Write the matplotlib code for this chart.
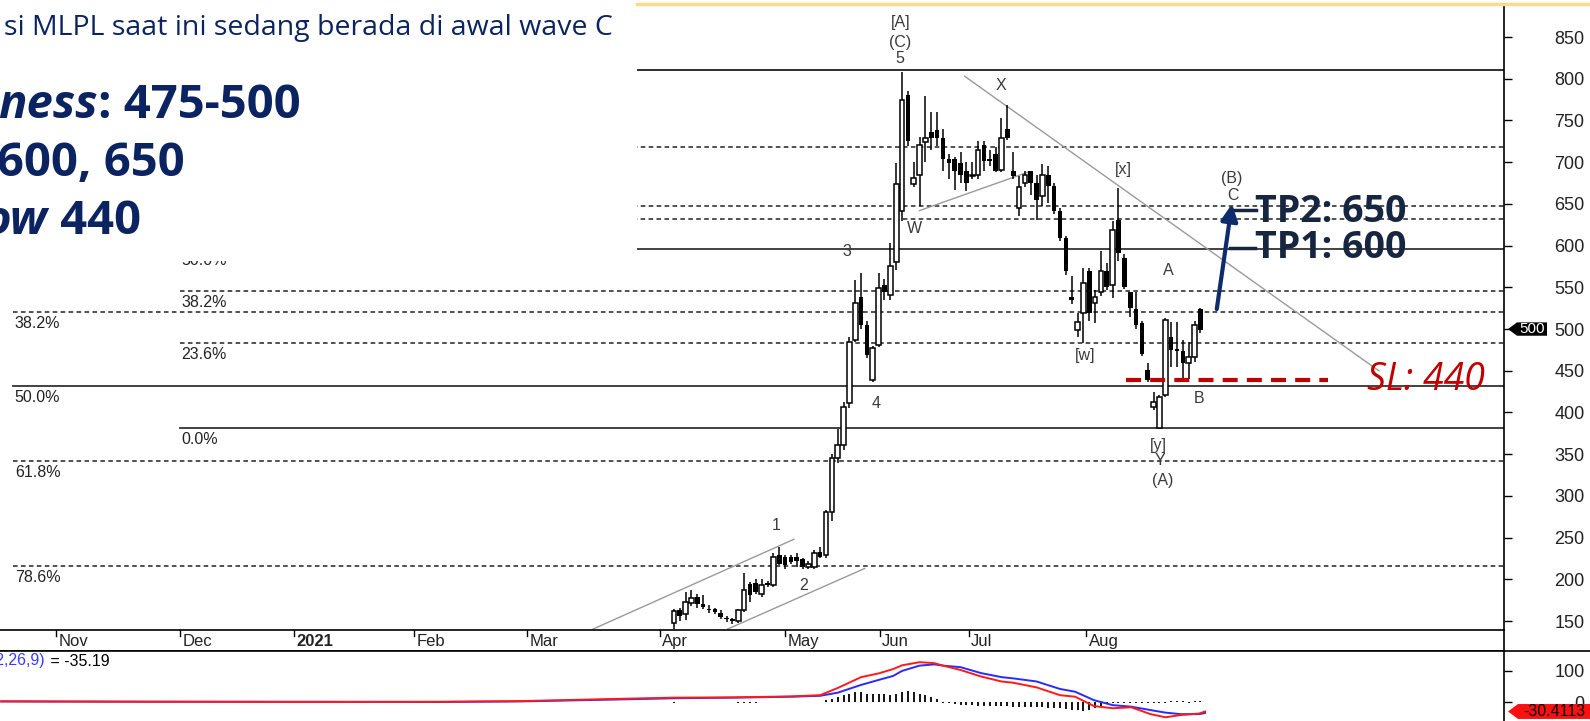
import numpy as np
import matplotlib.pyplot as plt
from matplotlib.patches import Rectangle, Polygon
from matplotlib.transforms import blended_transform_factory

plt.rcParams['font.family'] = ['Liberation Sans', 'DejaVu Sans']

W, H = 1590, 721

# daily candles, index 0 = first trading day of April 2021
opens = [148, 163, 159, 172, 179, 170, 165, 164, 160, 154, 153, 150, 163, 195, 196, 183, 196, 193, 229, 227,
         227, 227, 224, 215, 215, 233, 229, 281, 346, 361, 411, 487, 539, 505, 439, 481, 553, 541, 580, 641,
         780, 674, 685, 724, 736, 739, 729, 704, 704, 699, 689, 683, 685, 721, 704, 710, 691, 740, 689, 645,
         675, 689, 675, 659, 685, 671, 641, 609, 539, 499, 519, 569, 531, 545, 569, 553, 631, 585, 545, 524,
         507, 451, 407, 382, 421, 490, 476, 474, 459, 467, 524]
highs = [165, 166, 185, 187, 182, 181, 169, 166, 163, 156, 154, 165, 208, 197, 200, 201, 198, 231, 239, 229,
         229, 231, 226, 222, 235, 239, 283, 350, 380, 412, 490, 559, 567, 510, 480, 567, 560, 603, 699, 808,
         785, 700, 730, 779, 760, 760, 740, 710, 706, 712, 700, 700, 725, 725, 715, 718, 753, 768, 712, 683,
         690, 690, 685, 698, 695, 675, 645, 612, 563, 519, 573, 573, 547, 593, 579, 629, 669, 590, 545, 545,
         510, 459, 425, 421, 513, 509, 509, 487, 485, 510, 525]
lows = [140, 150, 151, 168, 166, 165, 160, 158, 153, 149, 147, 148, 161, 173, 183, 179, 191, 191, 217, 213,
        218, 215, 213, 213, 213, 225, 225, 270, 340, 355, 405, 485, 500, 465, 437, 478, 535, 535, 571, 630,
        720, 670, 647, 700, 715, 720, 690, 680, 667, 675, 665, 680, 680, 690, 695, 688, 688, 727, 680, 635,
        670, 661, 631, 647, 651, 638, 605, 565, 530, 491, 483, 510, 507, 540, 547, 537, 581, 548, 515, 500,
        468, 437, 403, 381, 419, 455, 455, 440, 440, 460, 495]
closes = [162, 156, 173, 178, 170, 167, 163, 161, 155, 152, 150, 163, 187, 181, 185, 193, 193, 227, 219, 217,
          221, 222, 215, 219, 232, 227, 281, 346, 361, 407, 485, 531, 505, 469, 477, 549, 545, 575, 674, 775,
          725, 681, 721, 729, 729, 729, 704, 699, 689, 685, 675, 685, 715, 701, 701, 690, 729, 729, 683, 670,
          685, 675, 655, 685, 671, 641, 609, 569, 535, 509, 555, 519, 539, 569, 551, 619, 591, 551, 525, 505,
          470, 439, 413, 419, 511, 475, 474, 459, 467, 505, 499]

# MACD(12,26,9) panel
macd_x = [-115, -90, -60, -40, -26, -10, 0, 10, 20, 25, 28, 32, 35, 37.5, 39, 42, 44.5, 46, 49, 52.5,
          56, 58, 62, 66, 68.6, 71.8, 75, 78.2, 81.5, 84, 86.6, 89.8, 90.8]
macd_red = [2, 1, 0, 1, 3, 10, 14, 15, 18, 22, 45, 80, 92, 106, 118, 128, 125, 117, 103, 82,
            66, 62, 47, 22, 17, -13, -20, -17, -39, -49, -42, -37, -30.41]
macd_blue = [2, 1, 1, 0, 2, 8, 12, 14, 17, 20, 30, 55, 71, 84, 100, 117, 121, 117, 112, 93,
             80, 76, 66, 42, 33, 6, -10, -15, -26, -34, -39, -39, -35.19]
macd_hist = ([-2] + [0] * 10 + [-2] * 4 + [0] * 11 +
             [5, 9, 15, 21, 27, 32, 32, 27, 25, 27, 27, 22, 27, 32, 35, 32, 27, 22, 15, 9] + [-2] +
             [-4, -6, -8, -10, -11, -12, -12, -13, -13, -14, -14, -15, -15, -16, -16, -17, -17, -18, -18] +
             [-19, -22, -25, -27, -28, -26, -20, -12, -6, -4, -3, -3, -3, -3, -3, -2, -3, -2, -2, 2, 2, 2, -2, 2, 2])

month_pos = [-105.6, -84.4, -65.0, -44.4, -25.1, -2.4, 19.0, 35.2, 50.4, 70.5]
month_lbl = ['Nov', 'Dec', '2021', 'Feb', 'Mar', 'Apr', 'May', 'Jun', 'Jul', 'Aug']

# two fibonacci retracements
fib_a_levels = [810, 632, 521, 432, 342, 216]
fib_a_labels = ['0.0%', '23.6%', '38.2%', '50.0%', '61.8%', '78.6%']
fib_b_levels = [382, 483, 546, 596, 647, 718, 810]
fib_b_labels = ['0.0%', '23.6%', '38.2%', '50.0%', '61.8%', '78.6%', '100.0%']
fib_a_start, fib_b_start = -112.9, -84.4

trend_lines = [([-13.8, 20.5], [140.5, 248]), ([9.2, 32.6], [140.5, 213]),
               ([42, 60.5], [642, 688]), ([49.7, 120.5], [803, 450])]

wave_labels = [('[A]', 38.7, 868), ('(C)', 38.7, 844), ('5', 38.7, 824), ('3', 29.5, 593), ('4', 34.5, 411),
               ('1', 17.4, 265), ('2', 22.2, 193), ('W', 41.1, 620), ('X', 55.9, 792), ('[x]', 76.8, 691),
               ('[w]', 70.3, 468), ('A', 84.5, 570), ('B', 89.8, 417), ('[y]', 82.9, 360), ('Y', 83.1, 342),
               ('(A)', 83.6, 319), ('(B)', 95.4, 680), ('C', 95.6, 660)]

XMIN, XMAX = -115.2, 141.9
navy = '#0b2461'
sans = ['Open Sans', 'DejaVu Sans']

fig = plt.figure(figsize=(W / 100, H / 100), dpi=100)

# ---- price panel
ax = fig.add_axes([0, 91 / H, 1504 / W, 625 / H])
ax.set_xlim(XMIN, XMAX)
ax.set_ylim(139.3, 888.4)
for s in ['left', 'top', 'bottom']:
    ax.spines[s].set_visible(False)
ax.spines['right'].set_linewidth(1.2)
ax.set_xticks([])
ax.yaxis.tick_right()
ax.set_yticks(range(150, 851, 50))
ax.tick_params(axis='y', direction='out', length=6, width=1, pad=52, labelsize=13, labelcolor='#222')
for lab in ax.get_yticklabels():
    lab.set_horizontalalignment('right')

for levels, labels, start in [(fib_a_levels, fib_a_labels, fib_a_start), (fib_b_levels, fib_b_labels, fib_b_start)]:
    for lv, lb in zip(levels, labels):
        if lb in ('0.0%', '50.0%', '100.0%'):
            ax.plot([start, XMAX], [lv, lv], color='#333', lw=1.3, zorder=1)
        else:
            ax.plot([start, XMAX], [lv, lv], color='#222', lw=1.1, ls=(0, (3, 2.2)), zorder=1)
        ax.annotate(lb, (start, lv), xytext=(1, -3), textcoords='offset points', va='top', ha='left',
                    fontsize=11.5, color='#222')

for xs, ys in trend_lines:
    ax.plot(xs, ys, color='#9a9a9a', lw=1, zorder=2)

o, hi, lo, c = map(np.array, (opens, highs, lows, closes))
x = np.arange(len(o))
up = c >= o
ax.vlines(x, lo, hi, color='black', lw=1.1, zorder=3)
ax.bar(x[up], c[up] - o[up], bottom=o[up], width=0.8, facecolor='white', edgecolor='black', lw=1.1, zorder=4)
ax.bar(x[~up], o[~up] - c[~up], bottom=c[~up], width=0.8, color='black', zorder=4)

for t, xx, yy in wave_labels:
    ax.text(xx, yy, t, ha='center', va='center', fontsize=11.5, color='#3a3a3a', zorder=5)

# trade plan
ax.plot([77.2, 111.8], [439, 439], color='#c00000', lw=3, ls=(0, (3.6, 2.2)), zorder=5)
ax.text(118.5, 439, 'SL: 440', fontsize=27, style='italic', color='#c00000', va='center', family=sans)
ax.annotate('', xy=(95.4, 650), xytext=(92.8, 524),
            arrowprops=dict(arrowstyle='-|>', color='#0e2b6b', lw=3, mutation_scale=25, shrinkA=0, shrinkB=0))
ax.plot([95.3, 99.5], [643, 643], color='#172640', lw=2.5)
ax.plot([95.0, 99.3], [597, 597], color='#172640', lw=2.5)
ax.text(99.4, 640, 'TP2: 650', fontsize=27, fontweight='bold', color='#172640', va='center', family=sans)
ax.text(99.4, 597, 'TP1: 600', fontsize=27, fontweight='bold', color='#172640', va='center', family=sans)

# last price tag
tr = blended_transform_factory(fig.transFigure, ax.transData)
ax.add_patch(Polygon([(1508 / W, 500), (1517 / W, 508), (1547 / W, 508), (1547 / W, 492), (1517 / W, 492)],
                     closed=True, transform=tr, clip_on=False, facecolor='black', zorder=6))
ax.text(1532 / W, 500, '500', transform=tr, color='white', ha='center', va='center', fontsize=11,
        clip_on=False, zorder=7)

# ---- date strip
ax_d = fig.add_axes([0, 70 / H, 1504 / W, 21 / H])
ax_d.set_xlim(XMIN, XMAX)
ax_d.set_ylim(0, 1)
ax_d.set_xticks([])
ax_d.set_yticks([])
ax_d.spines['left'].set_visible(False)
for s in ['top', 'bottom', 'right']:
    ax_d.spines[s].set_linewidth(1.2)
for p, m in zip(month_pos, month_lbl):
    ax_d.plot([p, p], [1, 0.7], color='black', lw=1)
    ax_d.text(p + 0.4, 0.45, m, fontsize=12, va='center', ha='left', color='#222',
              fontweight='bold' if m == '2021' else 'normal')

# ---- MACD panel
ax_m = fig.add_axes([0, 0, 1504 / W, 70 / H])
ax_m.set_xlim(XMIN, XMAX)
ax_m.set_ylim(-61, 164)
for s in ['left', 'top', 'bottom']:
    ax_m.spines[s].set_visible(False)
ax_m.spines['right'].set_linewidth(1.2)
ax_m.set_xticks([])
ax_m.yaxis.tick_right()
ax_m.set_yticks([0, 100])
ax_m.tick_params(axis='y', direction='out', length=6, width=1, pad=52, labelsize=13, labelcolor='#222')
for lab in ax_m.get_yticklabels():
    lab.set_horizontalalignment('right')
ax_m.vlines(np.arange(len(macd_hist)), 0, macd_hist, color='black', lw=1.3)
ax_m.plot(macd_x, macd_blue, color='#2a2aff', lw=1.4)
ax_m.plot(macd_x, macd_red, color='#ff1a1a', lw=1.4)
trm = blended_transform_factory(fig.transFigure, ax_m.transData)
v = macd_red[-1]
ax_m.add_patch(Polygon([(1508 / W, v), (1518 / W, v + 24), (1, v + 24), (1, v - 24), (1518 / W, v - 24)],
                       closed=True, transform=trm, clip_on=False, facecolor='#ff1010', zorder=6))
ax_m.text(1554 / W, v, '-30.4113', transform=trm, color='black', ha='center', va='center', fontsize=11.5,
          clip_on=False, zorder=7)

# ---- slide overlay (text box over the chart)
ov = fig.add_axes([0, 0, 1, 1], zorder=5)
ov.set_xlim(0, W)
ov.set_ylim(H, 0)
ov.axis('off')
ov.add_patch(Rectangle((0, 0), 637, 261, facecolor='white', edgecolor='none'))
ov.plot([637, W], [4, 4], color='#f8dc8c', lw=2.5)
ov.plot([0, W], [651, 651], color='black', lw=1.2)
ov.text(45.6, 661, 'MACD(12,26,9)', ha='right', va='center', color='#3b3bff', fontsize=11.5)
ov.text(45.6, 661, ' = -35.19', ha='left', va='center', color='black', fontsize=11.5)

ov.text(4, 28, 'si MLPL saat ini sedang berada di awal wave C', fontsize=20.5, color=navy, va='center',
        family=sans)
t1 = ov.text(-2, 105, 'ness', fontsize=34, fontweight='bold', style='italic', color=navy, va='center', family=sans)
ov.annotate(': 475-500', xy=(1, 0), xycoords=t1, va='bottom', fontsize=34, fontweight='bold', color=navy,
            family=sans)
ov.text(-3, 163, '600, 650', fontsize=34, fontweight='bold', color=navy, va='center', family=sans)
t3 = ov.text(-16, 221, 'ow', fontsize=34, fontweight='bold', style='italic', color=navy, va='center', family=sans)
ov.annotate(' 440', xy=(1, 0), xycoords=t3, va='bottom', fontsize=34, fontweight='bold', color=navy, family=sans)

fig.savefig('out.png', dpi=100)
